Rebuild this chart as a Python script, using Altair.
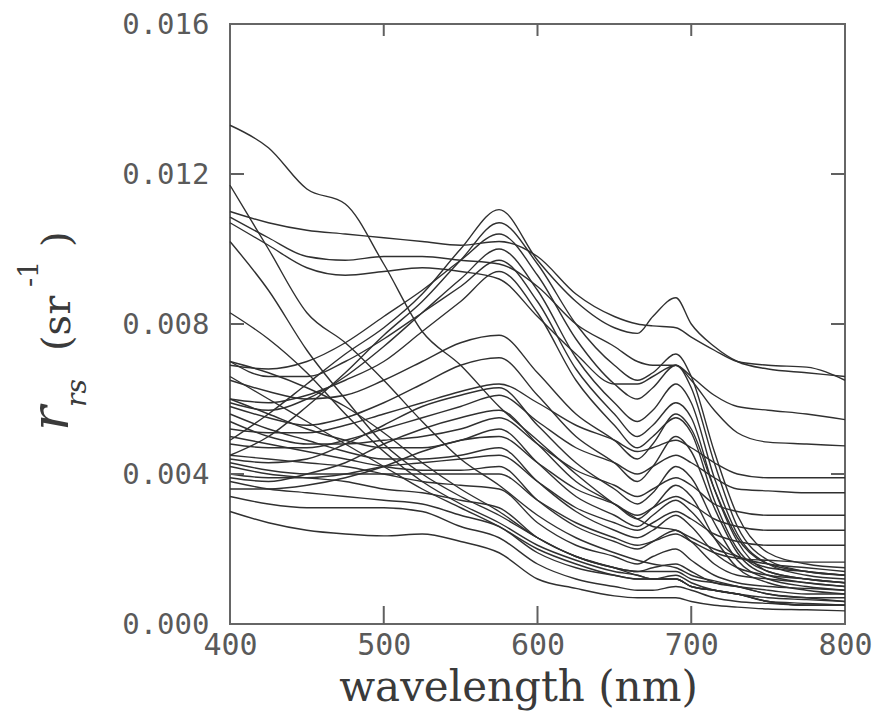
import altair as alt
import pandas as pd

# wavelength grid (nm)
wavelength = [400, 425, 450, 475, 500, 525, 550, 575, 600, 625, 650, 665, 675, 690, 700, 715, 730, 750, 775, 800]

# remote-sensing reflectance spectra, values in units of 1e-3 sr^-1
b1 = [13.3, 12.7, 11.6, 11.2, 9.6, 7.8, 6.9, 5.8, 4.9, 4.0, 3.2, 2.8, 2.6, 2.5, 2.3, 2.0, 1.8, 1.5, 1.4, 1.3]
b2 = [11.7, 10.0, 8.3, 7.5, 6.5, 5.4, 4.4, 3.7, 2.9, 2.3, 1.9, 1.7, 1.6, 1.5, 1.3, 1.15, 1.0, 0.8, 0.7, 0.6]
b3 = [10.2, 8.9, 7.3, 6.0, 4.8, 4.0, 3.4, 2.9, 2.3, 1.8, 1.5, 1.3, 1.2, 1.2, 1.0, 0.9, 0.8, 0.6, 0.5, 0.5]
b4 = [8.3, 7.6, 6.7, 5.6, 4.6, 3.8, 3.2, 2.7, 2.1, 1.7, 1.4, 1.3, 1.2, 1.2, 1.0, 0.9, 0.8, 0.6, 0.5, 0.5]
b5 = [7.0, 6.7, 6.3, 5.8, 5.1, 4.3, 3.6, 3.0, 2.3, 1.8, 1.5, 1.4, 1.4, 1.4, 1.2, 1.1, 1.0, 0.8, 0.7, 0.7]
b6 = [6.6, 6.0, 5.4, 4.8, 4.2, 3.6, 3.1, 2.6, 2.0, 1.6, 1.3, 1.2, 1.2, 1.2, 1.0, 0.9, 0.8, 0.6, 0.55, 0.5]

f1 = [11.0, 10.7, 10.5, 10.4, 10.3, 10.2, 10.1, 10.2, 9.8, 8.8, 8.2, 8.0, 7.95, 7.9, 7.65, 7.3, 7.0, 6.9, 6.85, 6.5]
f2 = [10.85, 10.3, 9.8, 9.7, 9.8, 9.8, 9.7, 9.6, 9.0, 8.0, 7.4, 7.0, 6.9, 6.9, 6.6, 6.1, 5.8, 5.7, 5.6, 5.45]
f3 = [10.7, 10.1, 9.5, 9.3, 9.4, 9.5, 9.4, 9.2, 8.2, 7.2, 6.4, 6.4, 6.6, 6.9, 6.5, 5.7, 5.1, 4.85, 4.8, 4.75]

g1 = [4.9, 5.6, 6.4, 7.2, 7.9, 8.8, 10.0, 11.05, 9.7, 8.6, 7.9, 7.75, 8.2, 8.7, 8.0, 7.4, 7.0, 6.8, 6.7, 6.6]
g2 = [4.5, 5.0, 5.8, 6.7, 7.7, 8.6, 9.7, 10.7, 9.6, 8.0, 6.9, 6.5, 6.7, 7.2, 6.6, 4.6, 2.9, 1.9, 1.6, 1.5]
g3 = [6.9, 6.8, 7.0, 7.5, 8.2, 8.9, 9.7, 10.4, 9.3, 7.6, 6.4, 6.0, 6.3, 6.9, 6.3, 4.3, 2.6, 1.7, 1.4, 1.3]
g4 = [5.9, 5.7, 6.0, 6.6, 7.4, 8.3, 9.2, 10.0, 8.9, 7.1, 5.9, 5.4, 5.7, 6.4, 5.9, 3.9, 2.4, 1.6, 1.3, 1.2]
g5 = [7.0, 6.6, 6.6, 7.0, 7.6, 8.3, 9.0, 9.7, 8.6, 6.8, 5.6, 5.0, 5.3, 5.9, 5.5, 3.6, 2.2, 1.4, 1.2, 1.1]
g6 = [6.0, 5.9, 6.1, 6.5, 7.0, 7.8, 8.6, 9.4, 8.3, 6.5, 5.3, 4.7, 5.0, 5.5, 5.1, 3.3, 2.0, 1.4, 1.2, 1.1]

m1 = [6.5, 6.2, 6.0, 6.1, 6.5, 7.0, 7.5, 7.7, 6.7, 5.6, 4.9, 4.4, 4.8, 5.6, 5.2, 3.6, 2.3, 1.6, 1.4, 1.3]
m2 = [5.8, 5.5, 5.3, 5.5, 5.9, 6.4, 6.9, 7.1, 6.1, 5.0, 4.3, 3.8, 4.2, 5.0, 4.6, 3.1, 1.9, 1.3, 1.1, 1.0]
m3 = [4.4, 4.3, 4.4, 4.8, 5.3, 5.8, 6.1, 6.3, 5.3, 4.3, 3.6, 3.2, 3.5, 4.2, 3.9, 2.7, 1.7, 1.2, 1.0, 0.9]
m4 = [3.9, 3.8, 4.0, 4.3, 4.8, 5.2, 5.5, 5.7, 4.8, 3.8, 3.2, 2.8, 3.1, 3.7, 3.4, 2.3, 1.5, 1.1, 0.9, 0.8]

e1 = [5.2, 5.1, 5.1, 5.3, 5.6, 5.9, 6.2, 6.4, 5.9, 5.3, 4.9, 4.6, 4.7, 4.9, 4.7, 4.3, 4.0, 3.9, 3.9, 3.9]
e2 = [4.8, 4.7, 4.7, 4.9, 5.2, 5.5, 5.8, 6.1, 5.4, 4.7, 4.3, 4.0, 4.2, 4.5, 4.3, 3.9, 3.6, 3.55, 3.5, 3.5]
e3 = [5.4, 5.0, 4.8, 4.8, 4.9, 5.0, 5.2, 5.5, 4.8, 4.1, 3.7, 3.4, 3.6, 3.9, 3.7, 3.2, 3.0, 2.9, 2.9, 2.9]
e4 = [3.6, 3.6, 3.7, 3.9, 4.2, 4.6, 4.9, 5.0, 4.3, 3.6, 3.2, 2.9, 3.1, 3.4, 3.2, 2.8, 2.6, 2.5, 2.5, 2.5]
e5 = [4.0, 3.9, 3.9, 4.0, 4.2, 4.3, 4.4, 4.5, 3.8, 3.1, 2.7, 2.5, 2.7, 3.0, 2.8, 2.4, 2.2, 2.1, 2.1, 2.1]
e6 = [4.3, 4.1, 4.0, 4.0, 4.0, 4.0, 4.0, 4.0, 3.3, 2.7, 2.3, 2.1, 2.2, 2.4, 2.2, 1.9, 1.75, 1.7, 1.65, 1.65]

l1 = [3.0, 2.7, 2.5, 2.4, 2.35, 2.4, 2.2, 1.9, 1.2, 0.95, 0.75, 0.7, 0.7, 0.7, 0.6, 0.5, 0.45, 0.4, 0.38, 0.35]
l2 = [3.4, 3.2, 3.1, 3.1, 3.1, 3.0, 2.6, 2.3, 1.6, 1.2, 1.0, 0.9, 0.9, 1.0, 0.9, 0.7, 0.6, 0.55, 0.5, 0.5]
l3 = [3.8, 3.6, 3.5, 3.4, 3.3, 3.2, 2.9, 2.6, 1.9, 1.5, 1.3, 1.2, 1.2, 1.3, 1.1, 0.9, 0.8, 0.7, 0.65, 0.6]
l4 = [4.2, 4.0, 3.9, 3.8, 3.6, 3.5, 3.3, 3.1, 2.3, 1.8, 1.5, 1.4, 1.5, 1.6, 1.4, 1.1, 1.0, 0.9, 0.8, 0.8]
l5 = [4.5, 4.4, 4.3, 4.2, 4.0, 3.8, 3.7, 3.6, 2.7, 2.1, 1.8, 1.6, 1.8, 2.0, 1.7, 1.3, 1.1, 1.0, 0.95, 0.9]
l6 = [5.0, 4.8, 4.6, 4.4, 4.2, 4.1, 4.1, 4.2, 3.3, 2.6, 2.2, 2.0, 2.2, 2.5, 2.2, 1.6, 1.3, 1.2, 1.1, 1.0]
l7 = [5.6, 5.2, 4.9, 4.6, 4.4, 4.4, 4.5, 4.7, 3.8, 3.0, 2.5, 2.3, 2.5, 2.9, 2.6, 1.9, 1.5, 1.3, 1.2, 1.1]
l8 = [6.0, 5.6, 5.2, 4.9, 4.7, 4.7, 4.9, 5.2, 4.3, 3.4, 2.9, 2.6, 2.9, 3.3, 3.0, 2.3, 1.8, 1.6, 1.5, 1.4]

x_ticks = [400, 500, 600, 700, 800]
y_ticks = [0, 4, 8, 12, 16]
x_inner_ticks = [500, 600, 700]
y_inner_ticks = [4, 8, 12]

curves = {
    "b1": b1, "b2": b2, "b3": b3, "b4": b4, "b5": b5, "b6": b6,
    "f1": f1, "f2": f2, "f3": f3,
    "g1": g1, "g2": g2, "g3": g3, "g4": g4, "g5": g5, "g6": g6,
    "m1": m1, "m2": m2, "m3": m3, "m4": m4,
    "e1": e1, "e2": e2, "e3": e3, "e4": e4, "e5": e5, "e6": e6,
    "l1": l1, "l2": l2, "l3": l3, "l4": l4, "l5": l5, "l6": l6, "l7": l7, "l8": l8,
}
rows = [{"curve": k, "wl": w, "r": v} for k, vals in curves.items() for w, v in zip(wavelength, vals)]
df = pd.DataFrame(rows)

W, H = 615, 600
TICK_FONT = "DejaVu Sans Mono"
TITLE_FONT = "DejaVu Serif"
GREY = "#5a5a5a"
TEXT = "#3a3a3a"

xscale = alt.Scale(domain=[400, 800], nice=False, zero=False)
yscale = alt.Scale(domain=[0, 16], nice=False)

xaxis = alt.Axis(values=x_ticks, title="wavelength (nm)", format="d",
                 labelFont=TICK_FONT, labelFontSize=30, labelColor=GREY, labelFlush=False,
                 labelPadding=6, ticks=False, domain=False, grid=False,
                 titleFont=TITLE_FONT, titleFontSize=42, titleFontWeight="normal",
                 titleColor=TEXT, titlePadding=7, titleX=288, titleAlign="center")
yaxis = alt.Axis(values=y_ticks, title="",
                 labelExpr="format(datum.value / 1000, '.3f')",
                 labelFont=TICK_FONT, labelFontSize=29, labelColor=GREY, labelFlush=False,
                 labelPadding=21, ticks=False, domain=False, grid=False)

lines = alt.Chart(df).mark_line(color="#303030", strokeWidth=1.4, interpolate="monotone").encode(
    x=alt.X("wl:Q", scale=xscale, axis=xaxis, title="wavelength (nm)"),
    y=alt.Y("r:Q", scale=yscale, axis=yaxis, title=""),
    detail="curve:N",
)

xt = pd.DataFrame({"wl": x_inner_ticks})
yt = pd.DataFrame({"r": y_inner_ticks})
tick_style = dict(color="#606060", strokeWidth=2)
bottom_ticks = alt.Chart(xt).mark_rule(**tick_style).encode(
    x=alt.X("wl:Q", scale=xscale, axis=xaxis, title="wavelength (nm)"),
    y=alt.value(H), y2=alt.value(H - 18))
top_ticks = alt.Chart(xt).mark_rule(**tick_style).encode(
    x=alt.X("wl:Q", scale=xscale, axis=xaxis, title="wavelength (nm)"),
    y=alt.value(0), y2=alt.value(12))
left_ticks = alt.Chart(yt).mark_rule(**tick_style).encode(
    y=alt.Y("r:Q", scale=yscale, axis=yaxis, title=""),
    x=alt.value(0), x2=alt.value(14))
right_ticks = alt.Chart(yt).mark_rule(**tick_style).encode(
    y=alt.Y("r:Q", scale=yscale, axis=yaxis, title=""),
    x=alt.value(W), x2=alt.value(W - 14))


def label(txt, x, y, size, font, italic=False):
    return alt.Chart(pd.DataFrame({"t": [txt]})).mark_text(
        angle=270, align="left", baseline="alphabetic", font=font, fontSize=size,
        fontStyle="italic" if italic else "normal", color=TEXT,
    ).encode(text="t:N", x=alt.value(x), y=alt.value(y))


ytitle = [
    label("r", -162, 407, 52, "DejaVu Serif", italic=True),
    label("rs", -144, 383, 28, "DejaVu Serif", italic=True),
    label("(sr", -160, 327, 40, TITLE_FONT),
    label("-1", -192, 263, 27, TITLE_FONT),
    label(")", -160, 223, 40, TITLE_FONT),
]

chart = alt.layer(lines, bottom_ticks, top_ticks, left_ticks, right_ticks, *ytitle).properties(
    width=W, height=H,
    padding={"left": 222, "top": 16, "right": 27, "bottom": 91},
    autosize=alt.AutoSizeParams(type="none"),
).configure_view(stroke="#666666", strokeWidth=2)

chart.save("out.html", embed_options={"renderer": "svg", "actions": False})
